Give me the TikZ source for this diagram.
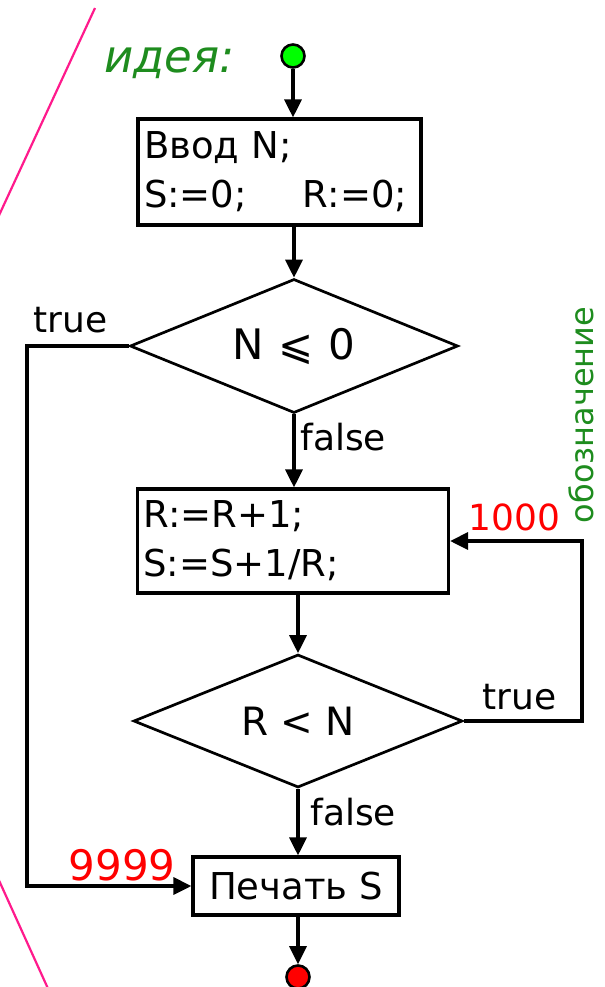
\documentclass[tikz,border=0pt]{standalone}
\usepackage{amssymb}
\usepackage{fontspec}
\setmainfont{DejaVu Sans}
\usetikzlibrary{arrows.meta, shapes.geometric, calc}
\definecolor{ideagreen}{HTML}{1E8C1E}
\definecolor{notered}{HTML}{FF0000}
\definecolor{edgepink}{HTML}{FF1A8C}

\begin{document}
\begin{tikzpicture}[x=0.5pt,y=-0.5pt,
    blk/.style={draw,line width=1.6pt,inner xsep=3pt,inner ysep=0pt,align=left,font=\fontsize{18.5}{24.5}\selectfont},
    cond/.style={draw,diamond,aspect=2.5,inner sep=0pt,line width=1.35pt},
    flow/.style={line width=1.6pt,-{Triangle[length=9pt,width=8.5pt]}},
    lbl/.style={inner sep=0pt,font=\fontsize{18}{20}\selectfont},
    numlbl/.style={inner sep=0pt,text=notered},
    dot/.style={circle,draw,line width=1.3pt,minimum size=11.5pt,inner sep=0pt}]
  \useasboundingbox (0,0) rectangle (605,987);

  % side marks
  \draw[edgepink,line width=1.1pt] (95,8) -- (-5,224);
  \draw[edgepink,line width=1.1pt] (-3,876) -- (50,993);

  \node[anchor=base west,inner sep=0pt,text=ideagreen,font=\fontsize{22.5}{24}\selectfont\itshape] (idea) at (104,72) {идея:};
  \node[dot,fill=green] (start) at (293,56) {};

  \node[blk,minimum height=53pt,text width=135.5pt] (init) at (279.5,172) {Ввод N;\\S:=0;\hspace{28pt}R:=0;};
  \node[cond,minimum width=164pt,minimum height=67pt,font=\fontsize{21}{24}\selectfont] (cond1) at (294,346) {N\hspace{0.35em}⩽\hspace{0.35em}0};
  \node[blk,minimum height=52pt,text width=149.5pt] (body) at (293,541) {R:=R+1;\\S:=S+1/R;};
  \node[cond,minimum width=164.5pt,minimum height=66.5pt,font=\fontsize{19.5}{22}\selectfont] (cond2) at (298,721) {R < N};
  \node[blk,minimum width=103pt,minimum height=29pt] (print) at (296,886) {Печать S};
  \node[dot,fill=red] (stop) at (298,977) {};

  \draw[flow] (start.south) -- (start.south |- init.north);
  \draw[flow] (cond1.north |- init.south) -- (cond1.north);
  \draw[flow] (cond1.south) -- (cond1.south |- body.north);
  \draw[flow] (cond2.north |- body.south) -- (cond2.north);
  \draw[flow] (cond2.south) -- (cond2.south |- print.north);
  \draw[flow] (print.south -| stop.north) -- (stop.north);

  % branches
  \coordinate (lft) at (27,346);
  \draw[flow] (cond1.west) -- (lft) |- (print.west);
  \coordinate (rgt) at (582,721);
  \draw[flow] (cond2.east) -- (rgt) |- (body.east);

  \node[lbl,anchor=base west] (t1) at (33,332) {true};
  \node[lbl,anchor=base west] (f1) at (300,450) {false};
  \node[lbl,anchor=base west] (t2) at (482,709) {true};
  \node[lbl,anchor=base west] (f2) at (310,825) {false};
  \node[numlbl,anchor=base west,font=\fontsize{18}{20}\selectfont] (n1000) at (468,530) {1000};
  \node[numlbl,anchor=base east,font=\fontsize{21}{24}\selectfont] (n9999) at (176,880) {9999};
  \node[anchor=base,rotate=90,inner sep=0pt,text=ideagreen,font=\fontsize{16}{18}\selectfont] (note) at (593,415) {обозначение};
\end{tikzpicture}
\end{document}
